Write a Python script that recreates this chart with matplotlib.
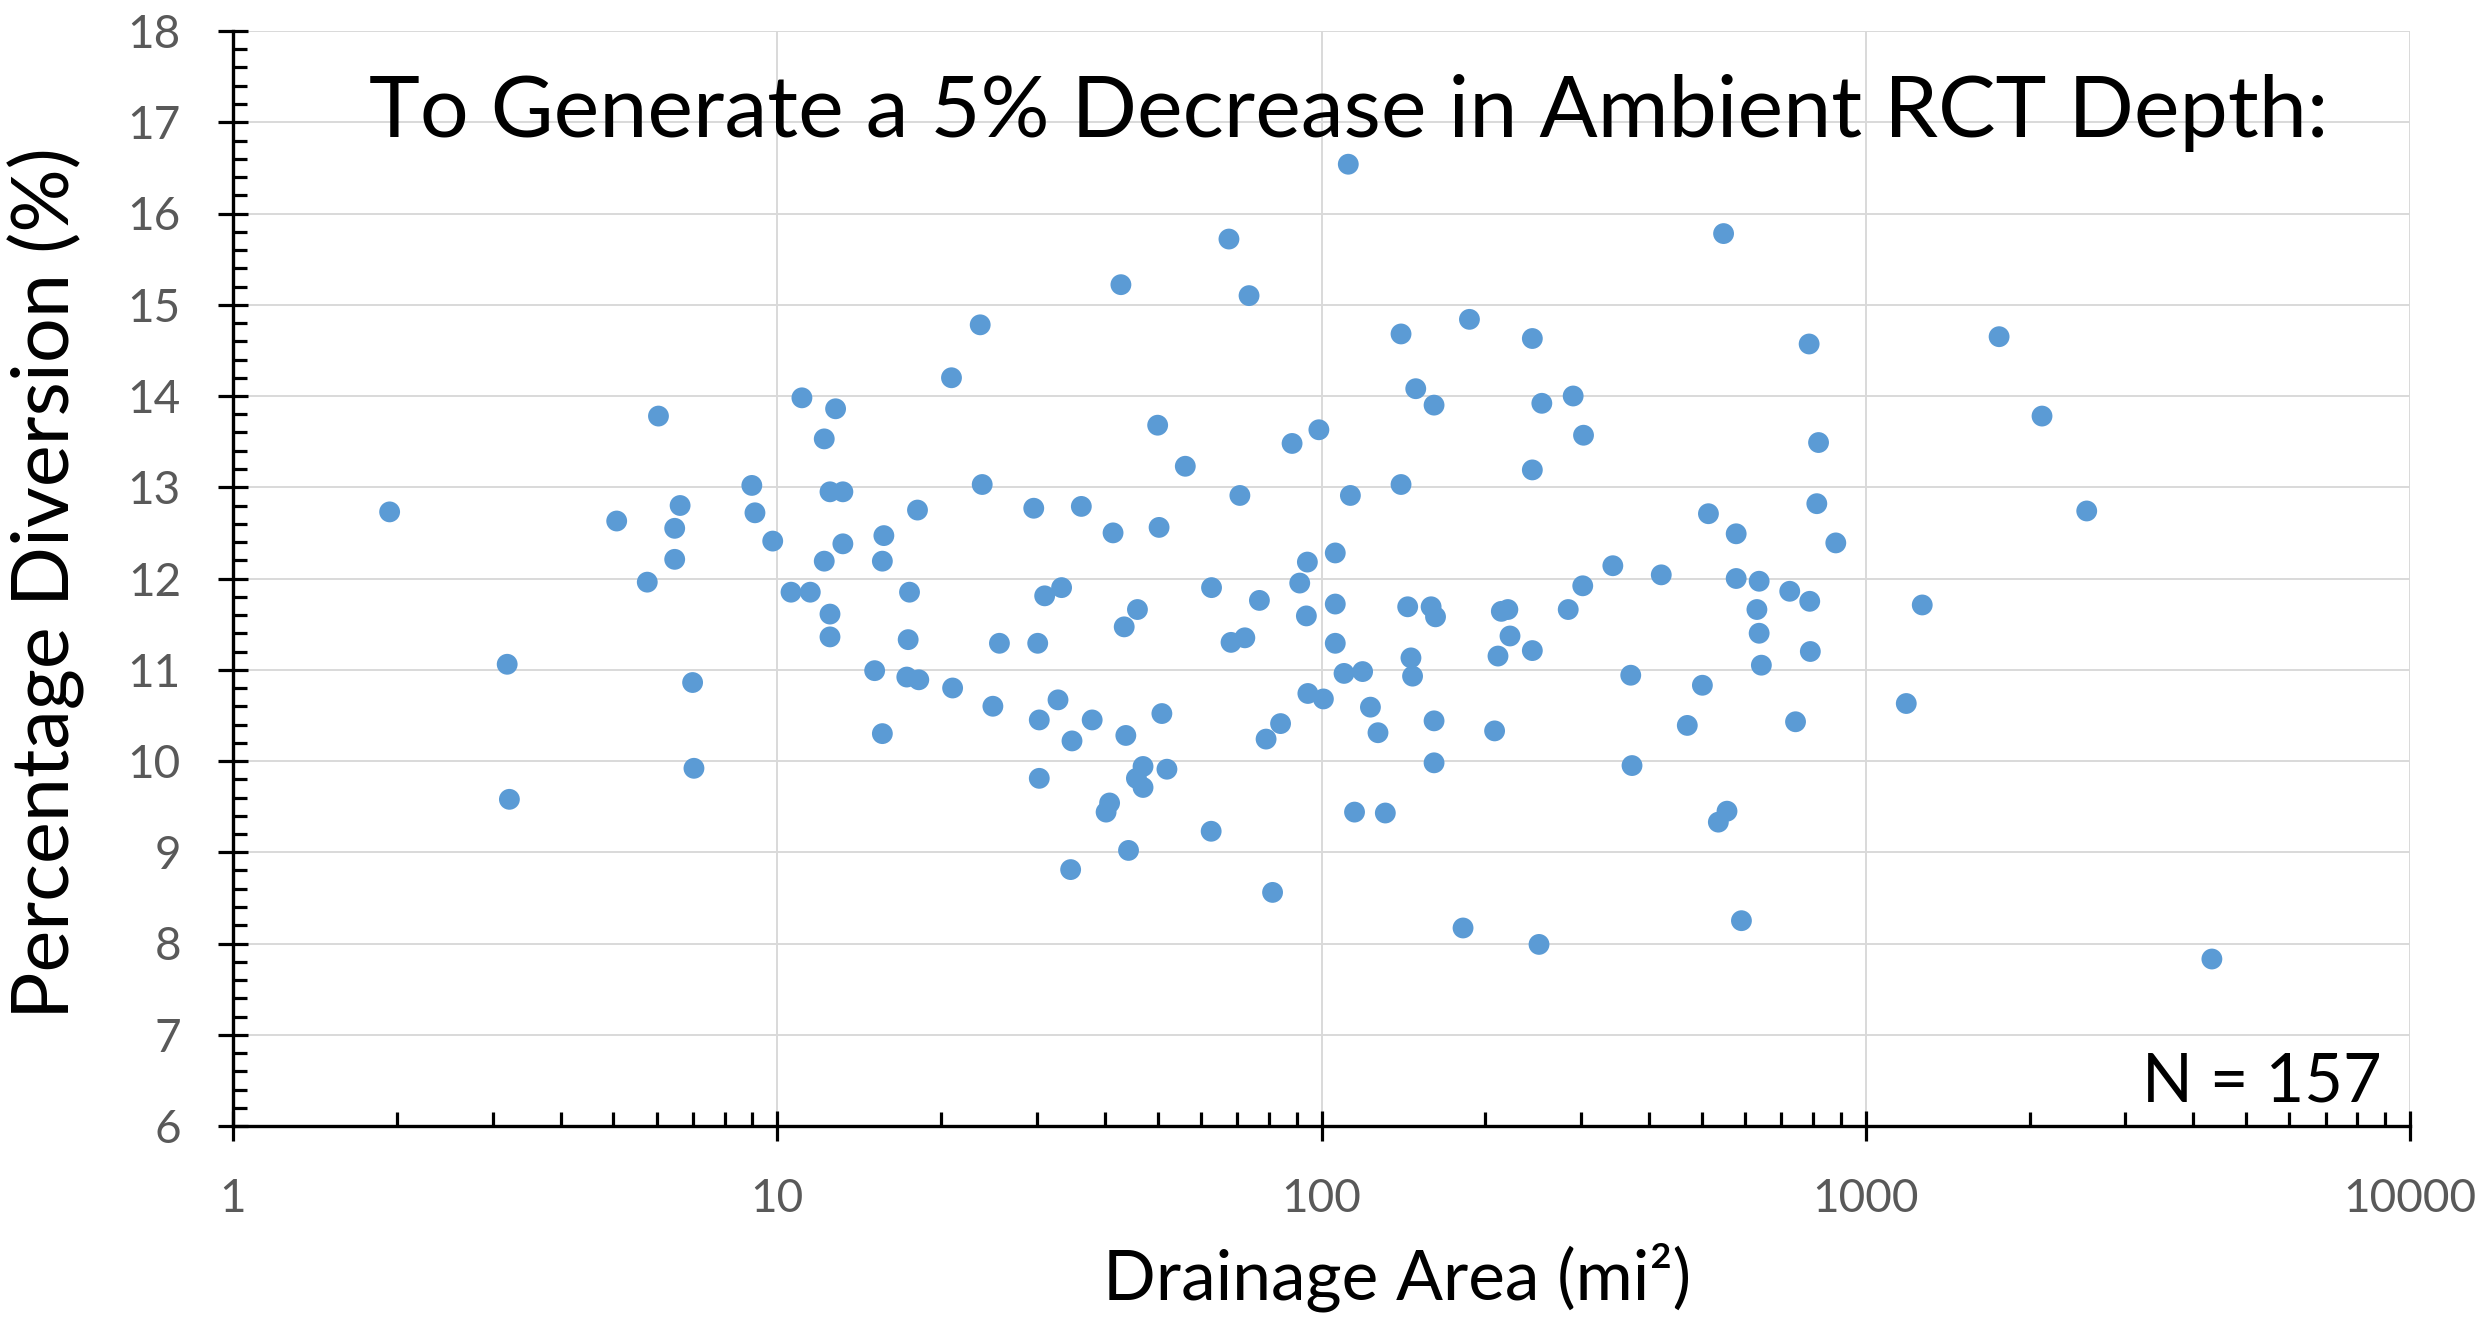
import matplotlib
matplotlib.use("Agg")
import matplotlib.pyplot as plt
from matplotlib.ticker import LogLocator, FixedLocator, FixedFormatter, MultipleLocator, NullFormatter

plt.rcParams['font.family'] = ['Lato', 'DejaVu Sans']

# drainage area (mi2) and percentage diversion (%)
area_mi2 = [
    1.94, 3.19, 3.22, 5.07, 6.05, 5.77, 6.48, 6.63, 6.48, 6.99, 7.03, 8.98,
    9.1, 9.81, 11.1, 12.8, 12.2, 12.5, 13.2, 18.1, 12.2, 13.2, 15.7, 15.6,
    10.6, 11.5, 12.5, 12.5, 17.5, 17.4, 15.1, 17.3, 18.2, 15.6,
    112, 67.6, 42.8, 73.6, 23.6, 20.9, 140, 187, 244, 149, 161, 254, 290, 303,
    50, 98.9, 88.3, 56.2, 244, 23.8, 140, 29.6, 36.2, 70.8, 113, 41.4, 50.3,
    106, 94.2, 91.2, 31.0, 33.3, 62.8, 76.9, 45.9, 43.4, 106, 93.8, 144, 159,
    162, 214, 220, 284, 302, 222, 244,
    25.6, 30.1, 68.2, 72.3, 106, 146, 211, 21.0, 24.9, 30.3, 32.8, 37.9, 34.8,
    43.7, 50.9, 30.3, 47.0, 45.7, 47.0, 52.0, 40.8, 40.2, 44.2, 34.6, 62.7,
    81.3, 79.1, 84.1, 94.4, 100.8, 110, 119, 123, 127, 115, 131, 147, 161, 161,
    208, 182, 251,
    548, 787, 1758, 819, 2108, 813, 2547, 514, 578, 881, 343, 421, 578, 637,
    725, 789, 631, 637, 1270,
    791, 643, 370, 501, 470, 743, 1187, 372, 556, 536, 591, 4325,
]
diversion_pct = [
    12.73, 11.06, 9.58, 12.63, 13.78, 11.96, 12.55, 12.80, 12.21, 10.86, 9.92, 13.02,
    12.72, 12.41, 13.98, 13.86, 13.53, 12.95, 12.95, 12.75, 12.19, 12.38, 12.47, 12.19,
    11.85, 11.85, 11.61, 11.36, 11.85, 11.33, 10.99, 10.92, 10.89, 10.30,
    16.54, 15.72, 15.22, 15.10, 14.78, 14.20, 14.68, 14.84, 14.63, 14.08, 13.90, 13.92, 14.00, 13.57,
    13.68, 13.63, 13.48, 13.23, 13.19, 13.03, 13.03, 12.77, 12.79, 12.91, 12.91, 12.50, 12.56,
    12.28, 12.18, 11.95, 11.81, 11.90, 11.90, 11.76, 11.66, 11.47, 11.72, 11.59, 11.69, 11.69,
    11.58, 11.64, 11.66, 11.66, 11.92, 11.37, 11.21,
    11.29, 11.29, 11.30, 11.35, 11.29, 11.13, 11.15, 10.80, 10.60, 10.45, 10.67, 10.45, 10.22,
    10.28, 10.52, 9.81, 9.94, 9.81, 9.71, 9.91, 9.54, 9.44, 9.02, 8.81, 9.23,
    8.56, 10.24, 10.41, 10.74, 10.68, 10.96, 10.98, 10.59, 10.31, 9.44, 9.43, 10.93, 10.44, 9.98,
    10.33, 8.17, 7.99,
    15.78, 14.57, 14.65, 13.49, 13.78, 12.82, 12.74, 12.71, 12.49, 12.39, 12.14, 12.04, 12.00, 11.97,
    11.86, 11.75, 11.66, 11.40, 11.71,
    11.20, 11.05, 10.94, 10.83, 10.39, 10.43, 10.63, 9.95, 9.45, 9.33, 8.25, 7.83,
]

x_ticks = [1, 10, 100, 1000, 10000]
x_labels = ['1', '10', '100', '1000', '10000']

fig = plt.figure(figsize=(24.83, 13.19), dpi=100)
ax = fig.add_axes([233/2483, 1-1126/1319, (2410-233)/2483, (1126-31)/1319])

ax.scatter(area_mi2, diversion_pct, s=225, color='#5B9BD5', edgecolors='none', zorder=3)

ax.set_xscale('log')
ax.set_xlim(1, 10000)
ax.set_ylim(6, 18)

ax.xaxis.set_major_locator(FixedLocator(x_ticks))
ax.xaxis.set_major_formatter(FixedFormatter(x_labels))
ax.xaxis.set_minor_locator(LogLocator(base=10, subs=range(2, 10), numticks=20))
ax.xaxis.set_minor_formatter(NullFormatter())
ax.yaxis.set_major_locator(MultipleLocator(1))
ax.yaxis.set_minor_locator(MultipleLocator(0.2))

ax.grid(which='major', color='#D9D9D9', linewidth=1.4, zorder=0)
ax.set_axisbelow(True)

for side in ['top', 'right']:
    ax.spines[side].set_visible(False)
for side in ['left', 'bottom']:
    ax.spines[side].set_linewidth(2.4)
    ax.spines[side].set_zorder(4)

ax.tick_params(which='major', direction='inout', length=21, width=2.3,
               labelsize=33, labelcolor='#595959', pad=27)
ax.tick_params(which='minor', direction='in', length=10, width=2.3)

fig.text(369/2483, 1-137/1319, 'To Generate a 5% Decrease in Ambient RCT Depth:',
         fontsize=62, ha='left', va='baseline', color='black')
fig.text(2382/2483, 1-1102/1319, 'N = 157', fontsize=48, ha='right', va='baseline')

fig.text(8/2483, 1-583/1319, 'Percentage Diversion (%)', rotation=90,
         fontsize=57, ha='left', va='center')
fig.text(1397/2483, 1-1300/1319, 'Drainage Area (mi²)', fontsize=50,
         ha='center', va='baseline')

fig.savefig('out.png', dpi=100)
